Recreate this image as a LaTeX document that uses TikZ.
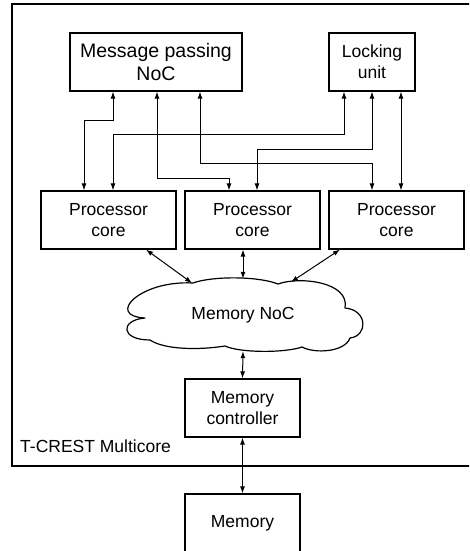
\documentclass[tikz,border=0pt]{standalone}
\usepackage{fontspec}
\setmainfont{Liberation Sans}
\usetikzlibrary{arrows.meta}
\begin{document}
\begin{tikzpicture}[x=1pt,y=-1pt,
  box/.style={draw,line width=1.2pt,inner sep=0pt,align=center,font=\fontsize{17.5}{21}\selectfont},
  arr/.style={line width=1pt,{Latex[length=7pt,width=5pt]}-{Latex[length=7pt,width=5pt]}}]
\useasboundingbox (0,0) rectangle (469,551);
\clip (0,0) rectangle (469,551);
\draw[line width=1.2pt] (12,4) rectangle (480,466);
\node[box,minimum width=172pt,minimum height=58pt,font=\fontsize{19.5}{23.5}\selectfont] (MP) at (156,62) {Message passing\\NoC};
\node[box,minimum width=86pt,minimum height=58pt] (LU) at (372,62) {Locking\\unit};
\node[box,minimum width=135pt,minimum height=58pt] (P1) at (108.5,220) {Processor\\core};
\node[box,minimum width=135pt,minimum height=58pt] (P2) at (252.5,220) {Processor\\core};
\node[box,minimum width=135pt,minimum height=58pt] (P3) at (396.5,220) {Processor\\core};
% cloud outline
\draw[line width=1.2pt,line join=round]
  (145,318) .. controls (105,316) and (140,280) .. (193,283)
  .. controls (212,276) and (258,276) .. (278,284)
  .. controls (300,276) and (350,282) .. (345,308)
  .. controls (368,310) and (368,336) .. (350,338)
  .. controls (345,352) and (315,354) .. (302,347)
  .. controls (285,353) and (240,353) .. (225,346)
  .. controls (200,350) and (165,350) .. (150,340)
  .. controls (120,340) and (120,320) .. (145,318) -- cycle;
\node[minimum width=239pt,minimum height=72pt,inner sep=0pt,font=\fontsize{17.5}{21}\selectfont] (NoC) at (243,315) {Memory NoC};
\node[box,minimum width=115pt,minimum height=58pt] (MC) at (242.5,408) {Memory\\controller};
\node[box,minimum width=115pt,minimum height=58pt] (Mem) at (242.5,523) {Memory};
\node[anchor=base west,inner sep=0pt,font=\fontsize{17.5}{21}\selectfont] (lbl) at (20,452) {T-CREST Multicore};
% NoC / locking connections
\draw[arr] (113,0 |- MP.south) |- (84,120) -- (84,0 |- P1.north);
\draw[arr] (344,0 |- LU.south) |- (113,134) -- (113,0 |- P1.north);
\draw[arr] (157,0 |- MP.south) |- (229,178) -- (229,0 |- P2.north);
\draw[arr] (372,0 |- LU.south) |- (257,149) -- (257,0 |- P2.north);
\draw[arr] (200,0 |- MP.south) |- (372,163) -- (372,0 |- P3.north);
\draw[arr] (401,0 |- LU.south) -- (401,0 |- P3.north);
% memory connections
\coordinate (c1) at (192,283);
\coordinate (c3) at (291,282);
\draw[arr] (146,0 |- P1.south) -- (c1);
\draw[arr] (243,0 |- P2.south) -- (NoC.north);
\draw[arr] (340,0 |- P3.south) -- (c3);
\draw[arr] (NoC.south) -- (MC.north);
\draw[arr] (MC.south) -- (Mem.north);
\end{tikzpicture}
\end{document}
